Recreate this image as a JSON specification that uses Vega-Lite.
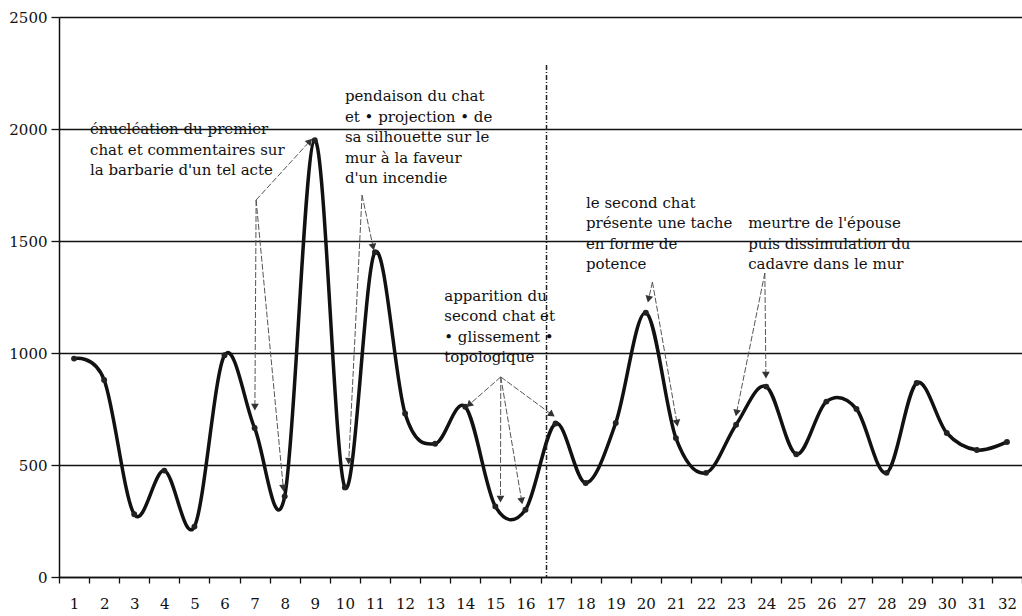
{
  "$schema": "https://vega.github.io/schema/vega-lite/v6.json",
  "width": 963,
  "height": 560,
  "autosize": {"type": "none"},
  "padding": {"left": 59, "top": 17, "right": 0, "bottom": 39},
  "background": "white",
  "config": {
    "view": {"stroke": null},
    "font": "DejaVu Serif",
    "axis": {"labelFont": "DejaVu Serif", "labelFontSize": 15, "labelColor": "#111", "title": null}
  },
  "datasets": {
    "main": [
      {"seq": 1, "value": 975}, {"seq": 2, "value": 880}, {"seq": 3, "value": 280}, {"seq": 4, "value": 475},
      {"seq": 5, "value": 225}, {"seq": 6, "value": 990}, {"seq": 7, "value": 665}, {"seq": 8, "value": 360},
      {"seq": 9, "value": 1950}, {"seq": 10, "value": 400}, {"seq": 11, "value": 1450}, {"seq": 12, "value": 730},
      {"seq": 13, "value": 595}, {"seq": 14, "value": 760}, {"seq": 15, "value": 315}, {"seq": 16, "value": 300},
      {"seq": 17, "value": 685}, {"seq": 18, "value": 420}, {"seq": 19, "value": 688}, {"seq": 20, "value": 1180},
      {"seq": 21, "value": 620}, {"seq": 22, "value": 465}, {"seq": 23, "value": 680}, {"seq": 24, "value": 850},
      {"seq": 25, "value": 548}, {"seq": 26, "value": 783}, {"seq": 27, "value": 750}, {"seq": 28, "value": 465},
      {"seq": 29, "value": 866}, {"seq": 30, "value": 643}, {"seq": 31, "value": 567}, {"seq": 32, "value": 603}
    ],
    "arrows": [
      {"x": 7.05, "y": 1683, "x2": 8.81, "y2": 1942},
      {"x": 7.05, "y": 1683, "x2": 7.01, "y2": 763},
      {"x": 7.05, "y": 1683, "x2": 7.95, "y2": 402},
      {"x": 10.57, "y": 1705, "x2": 10.93, "y2": 1478},
      {"x": 10.57, "y": 1705, "x2": 10.13, "y2": 522},
      {"x": 15.18, "y": 893, "x2": 14.15, "y2": 772},
      {"x": 15.18, "y": 893, "x2": 15.17, "y2": 353},
      {"x": 15.18, "y": 893, "x2": 15.87, "y2": 344},
      {"x": 15.18, "y": 893, "x2": 16.85, "y2": 728},
      {"x": 20.22, "y": 1317, "x2": 20.1, "y2": 1245},
      {"x": 20.22, "y": 1317, "x2": 21.03, "y2": 692},
      {"x": 23.955, "y": 1357, "x2": 23.02, "y2": 737},
      {"x": 23.955, "y": 1357, "x2": 23.99, "y2": 906}
    ],
    "notes": [
      {"x": 1.53, "y": 2031, "text": "énucléation du premier\nchat et commentaires sur\nla barbarie d'un tel acte"},
      {"x": 10.0, "y": 2178, "text": "pendaison du chat\net • projection • de\nsa silhouette sur le\nmur à la faveur\nd'un incendie"},
      {"x": 13.3, "y": 1286, "text": "apparition du\nsecond chat et\n• glissement •\ntopologique"},
      {"x": 18.01, "y": 1703, "text": "le second chat\nprésente une tache\nen forme de\npotence"},
      {"x": 23.4, "y": 1611, "text": "meurtre de l'épouse\npuis dissimulation du\ncadavre dans le mur"}
    ],
    "divider": [{"x": 16.7, "y": 2286, "y2": 0}]
  },
  "layer": [
    {
      "data": {"name": "main"},
      "encoding": {
        "x": {
          "field": "seq", "type": "ordinal",
          "scale": {"type": "band", "paddingInner": 0, "paddingOuter": 0},
          "axis": {"labelAngle": 0, "tickBand": "extent", "ticks": true, "tickSize": 6, "tickColor": "#111", "tickWidth": 1.3,
                   "domainColor": "#111", "domainWidth": 1.5, "labelPadding": 13, "grid": false}
        },
        "y": {
          "field": "value", "type": "quantitative",
          "scale": {"domain": [0, 2500], "nice": false, "zero": true},
          "axis": {"values": [0, 500, 1000, 1500, 2000, 2500], "format": "d", "grid": true, "gridColor": "#111", "gridWidth": 1.3,
                   "tickSize": 8, "tickColor": "#111", "tickWidth": 1.3, "labelPadding": 4,
                   "domainColor": "#111", "domainWidth": 1.5}
        }
      },
      "layer": [
        {"mark": {"type": "line", "interpolate": "cardinal", "color": "#111", "strokeWidth": 3.5}},
        {"mark": {"type": "point", "filled": true, "size": 35, "color": "#222", "opacity": 1}}
      ]
    },
    {
      "layer": [
        {
          "data": {"name": "arrows"},
          "mark": {"type": "rule", "color": "#555", "strokeWidth": 1, "strokeDash": [6, 2]},
          "encoding": {
            "x": {"field": "x", "type": "quantitative", "scale": {"domain": [0.5, 32.5], "nice": false, "zero": false}, "axis": null},
            "y": {"field": "y", "type": "quantitative"},
            "x2": {"field": "x2"},
            "y2": {"field": "y2"}
          }
        },
        {
          "data": {"name": "arrows"},
          "transform": [
            {"calculate": "atan2((datum.x2 - datum.x) * 30.09, (datum.y2 - datum.y) / 4.464) * 180 / PI", "as": "ang"}
          ],
          "mark": {"type": "point", "shape": "triangle", "filled": true, "size": 60, "color": "#333", "opacity": 1},
          "encoding": {
            "x": {"field": "x2", "type": "quantitative", "scale": {"domain": [0.5, 32.5], "nice": false, "zero": false}, "axis": null},
            "y": {"field": "y2", "type": "quantitative"},
            "angle": {"field": "ang", "type": "quantitative", "scale": null}
          }
        },
        {
          "data": {"name": "divider"},
          "mark": {"type": "rule", "color": "#222", "strokeWidth": 1.5, "strokeDash": [5, 2, 1, 2]},
          "encoding": {
            "x": {"field": "x", "type": "quantitative", "scale": {"domain": [0.5, 32.5], "nice": false, "zero": false}, "axis": null},
            "y": {"field": "y", "type": "quantitative"},
            "y2": {"field": "y2"}
          }
        },
        {
          "data": {"name": "notes"},
          "mark": {"type": "text", "align": "left", "baseline": "top", "lineBreak": "\n", "lineHeight": 20.5,
                   "font": "DejaVu Serif", "fontSize": 15, "color": "#111"},
          "encoding": {
            "x": {"field": "x", "type": "quantitative", "scale": {"domain": [0.5, 32.5], "nice": false, "zero": false}, "axis": null},
            "y": {"field": "y", "type": "quantitative"},
            "text": {"field": "text"}
          }
        }
      ]
    }
  ],
  "resolve": {"scale": {"x": "independent"}}
}
